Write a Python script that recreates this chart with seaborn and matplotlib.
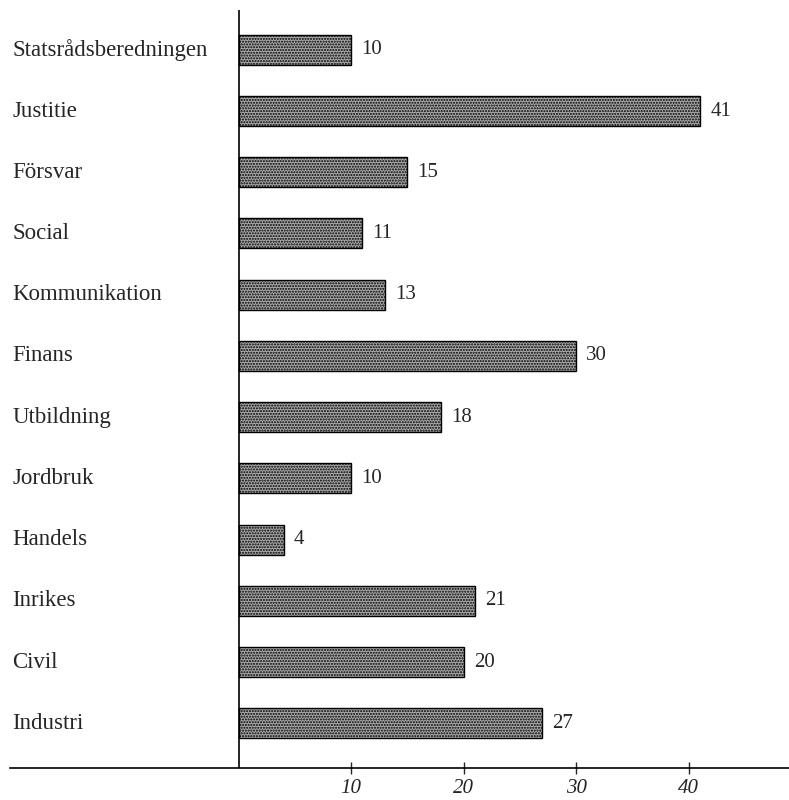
import matplotlib
matplotlib.use('Agg')
import matplotlib.pyplot as plt
import seaborn as sns
import pandas as pd

# Departement och antal
departments = ['Statsrådsberedningen', 'Justitie', 'Försvar', 'Social', 'Kommunikation',
               'Finans', 'Utbildning', 'Jordbruk', 'Handels', 'Inrikes', 'Civil', 'Industri']
counts = [10, 41, 15, 11, 13, 30, 18, 10, 4, 21, 20, 27]
ticks = [10, 20, 30, 40]

data = pd.DataFrame({'dept': departments, 'n': counts})

sns.set_theme(style='white')
plt.rcParams['font.family'] = ['Liberation Serif', 'DejaVu Serif']

fig = plt.figure(figsize=(7.89, 8.0), dpi=100)
ax = fig.add_axes([10 / 789, 32 / 800, 779 / 789, 758 / 800])

sns.barplot(data=data, x='n', y='dept', orient='h', ax=ax, width=0.49,
            color='#a8a8a8', edgecolor='black', linewidth=1.0, hatch='......')

ax.set_xlim(-20.3, 48.9)
ax.set_ylim(11.73, -0.65)

for sp in ['top', 'right', 'left']:
    ax.spines[sp].set_visible(False)
ax.spines['bottom'].set_linewidth(1.2)
ax.spines['bottom'].set_color('black')
# vertical axis line at zero
ax.axvline(0, color='black', linewidth=1.2)

ax.set_xticks(ticks)
ax.set_xticklabels([str(t) for t in ticks], fontsize=15, style='italic')
ax.tick_params(axis='x', direction='inout', length=8, width=1, pad=4, bottom=True)
ax.set_yticks([])
ax.set_xlabel('')
ax.set_ylabel('')

for i, (d, v) in enumerate(zip(departments, counts)):
    ax.text(-20.1, i, d, ha='left', va='center', fontsize=16.5)
    ax.text(v + 0.9, i, str(v), ha='left', va='center', fontsize=15)

fig.savefig('out.png', dpi=100)
